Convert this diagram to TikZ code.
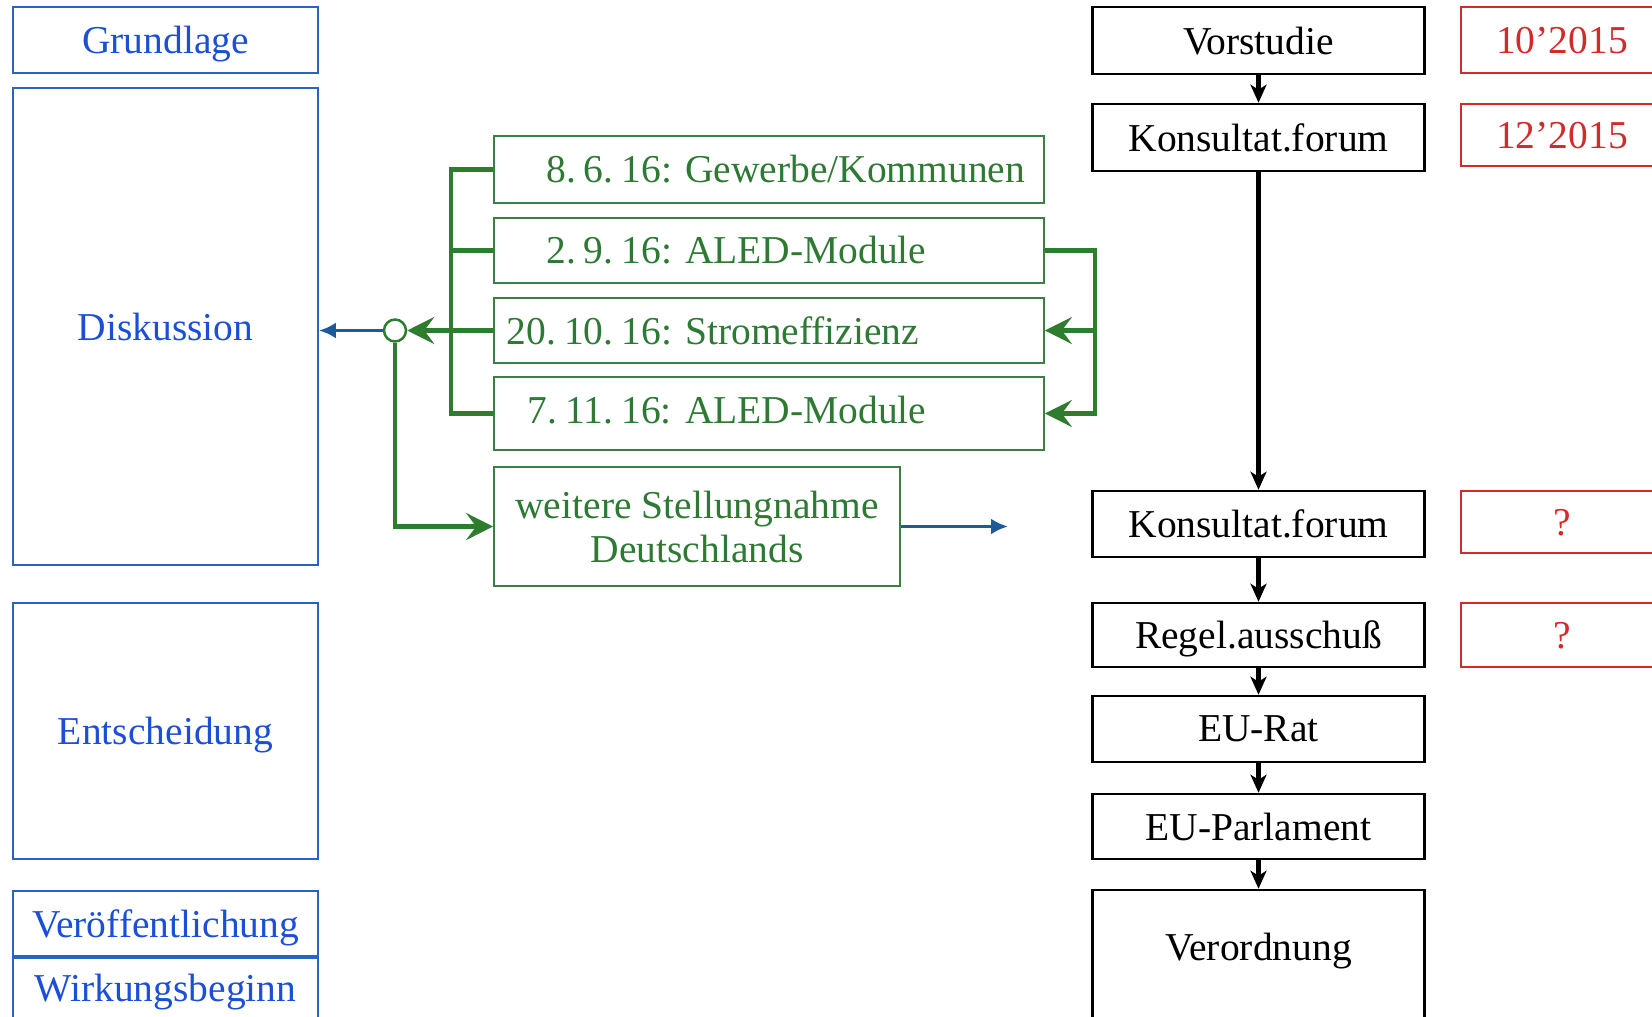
\documentclass[tikz,border=0pt]{standalone}
\usepackage{fontspec}
\setmainfont{Liberation Serif}
\usetikzlibrary{positioning, calc, arrows.meta}
\definecolor{PhaseBlue}{HTML}{1A4FD6}
\definecolor{PhaseLine}{HTML}{2B62C8}
\definecolor{ForumGreen}{HTML}{2E7A34}
\definecolor{ForumLine}{HTML}{3C7F45}
\definecolor{LinkGreen}{HTML}{2E7D2E}
\definecolor{LinkBlue}{HTML}{1C5A9A}
\definecolor{DateRed}{HTML}{D42A2A}
\frenchspacing
\newcommand\datum[3]{\makebox[169pt][r]{#1.\hspace{8pt}#2.\hspace{8pt}#3:}}

\begin{document}
\begin{tikzpicture}[x=1pt, y=-1pt,
  every node/.style={font=\fontsize{39.5}{44}\selectfont, inner sep=0pt, text depth=0pt},
  phase/.style={draw=PhaseLine, line width=1.8pt, text=PhaseBlue, minimum width=305pt},
  stage/.style={draw=black, line width=2.5pt, minimum width=332pt},
  datebox/.style={draw=DateRed, line width=1.8pt, text=DateRed, minimum width=202pt},
  meeting/.style={draw=ForumLine, line width=1.8pt, text=ForumGreen, text width=532pt,
    inner xsep=9pt, align=left, text depth=},
  remark/.style={draw=ForumLine, line width=1.8pt, text=ForumGreen, minimum width=406pt,
    align=center, text depth=},
  flow/.style={line width=5.5pt, -{Stealth[length=18pt, width=16pt, inset=5pt]}},
  feed/.style={LinkGreen, line width=4.5pt},
  feedtip/.style={-{Stealth[length=27pt, width=27pt, inset=10pt]}},
  pass/.style={LinkBlue, line width=3.5pt, -{Latex[length=17pt, width=16pt]}},
]
  \useasboundingbox (0,0) rectangle (1652,1017);
  \clip (0,0) rectangle (1652,1017);

  % x positions
  \def\xl{165.5} % left column
  \def\xg{769}   % meetings
  \def\xs{1258.5} % stages
  \def\xr{1562}  % dates

  % Left column: phases
  \node[phase, minimum height=66pt] (grund) at (\xl, 40) {Grundlage};
  \node[phase, minimum height=477pt] (disk) at (\xl, 326.5) {Diskussion};
  \node[phase, minimum height=256pt] (ents) at (\xl, 731) {Entscheidung};
  \node[phase, minimum height=65pt] (veroe) at (\xl, 923.5) {Veröffentlichung};
  \node[phase, minimum height=60pt, below=0pt of veroe] (wirk) {Wirkungsbeginn};

  % Meetings
  \node[meeting, minimum height=67pt] (m1) at (\xg, 169.5) {\datum{8}{6}{16} Gewerbe/Kommunen};
  \node[meeting, minimum height=65pt] (m2) at (\xg, 250.5) {\datum{2}{9}{16} ALED-Module};
  \node[meeting, minimum height=65pt] (m3) at (\xg, 330.5) {\datum{20}{10}{16} Stromeffizienz};
  \node[meeting, minimum height=73pt, text depth=7pt] (m4) at (\xg, 413.5) {\datum{7}{11}{16} ALED-Module};
  \node[remark, minimum height=119pt] (weit) at (697, 526.5) {weitere Stellungnahme\\Deutschlands};
  \node[circle, draw=LinkGreen, line width=2.5pt, fill=white, minimum size=22pt] (knot) at (395, 330.5) {};

  % Right column: stages
  \node[stage, minimum height=67pt] (vor) at (\xs, 40.5) {Vorstudie};
  \node[stage, minimum height=67pt] (kf1) at (\xs, 137.5) {Konsultat.forum};
  \node[stage, minimum height=66pt] (kf2) at (\xs, 524) {Konsultat.forum};
  \node[stage, minimum height=64pt] (regel) at (\xs, 635) {Regel.ausschuß};
  \node[stage, minimum height=66pt] (rat) at (\xs, 729) {EU-Rat};
  \node[stage, minimum height=65pt] (parl) at (\xs, 826.5) {EU-Parlament};
  \node[stage, minimum height=140pt, text depth=27pt] (vo) at (\xs, 960) {Verordnung};

  % Dates
  \node[datebox, minimum height=66pt] (d1) at (\xr, 40) {10’2015};
  \node[datebox, minimum height=62pt] (d2) at (\xr, 135) {12’2015};
  \node[datebox, minimum height=62pt] (d3) at (\xr, 522) {?};
  \node[datebox, minimum height=64pt] (d4) at (\xr, 635) {?};

  % Green connectors
  \coordinate (bus) at (451, 169.5);
  \coordinate (rail) at (1095, 250.5);
  \draw[feed] (m1.west) -- (bus) |- (m4.west);
  \draw[feed] (m2.west) -- (m2.west -| bus);
  \draw[feed, feedtip] (m3.west) -- (knot.east);
  \draw[feed, feedtip] (knot.south) |- (weit.west);
  \draw[feed, feedtip] (m2.east) -- (rail) |- (m4.east);
  \draw[feed, feedtip] (m3.east -| rail) -- (m3.east);

  % Blue connectors
  \coordinate (ziel) at (1008, 526.5);
  \draw[pass] (knot.west) -- (knot.west -| disk.east);
  \draw[pass] (weit.east) -- (ziel);

  % Stage chain
  \draw[flow] (vor.south) -- (kf1.north);
  \draw[flow] (kf1.south) -- (kf2.north);
  \draw[flow] (kf2.south) -- (regel.north);
  \draw[flow] (regel.south) -- (rat.north);
  \draw[flow] (rat.south) -- (parl.north);
  \draw[flow] (parl.south) -- (vo.north);
\end{tikzpicture}
\end{document}
